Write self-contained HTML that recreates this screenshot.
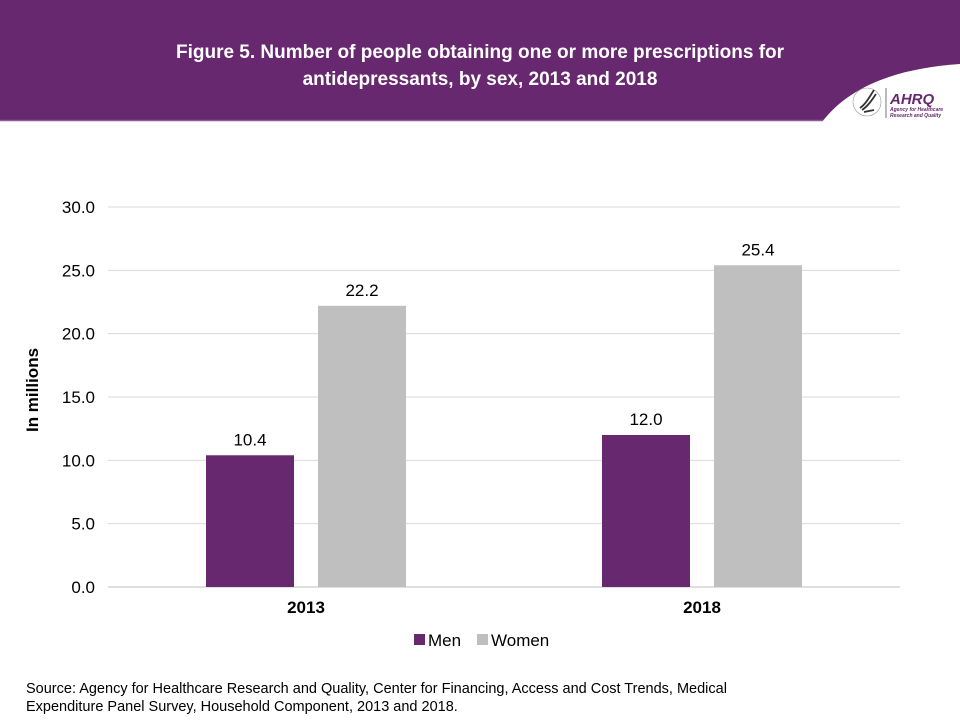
<!DOCTYPE html>
<html><head><meta charset="utf-8"><style>
body{margin:0;width:960px;height:720px;overflow:hidden;background:#fff;font-family:"Liberation Sans",Arial,sans-serif;}
#wrap{position:relative;width:960px;height:720px;}
</style></head><body>
<div id="wrap">
<svg id="svg" width="960" height="720" xmlns="http://www.w3.org/2000/svg">
  <rect x="0" y="0" width="960" height="121" fill="#67286f"/>
  <line x1="0" y1="120.5" x2="960" y2="120.5" stroke="#8e5a96" stroke-width="1.5"/>
  <path d="M822,122 C850,85 900,68 960,64 L960,122 Z" fill="#fff"/>
  <g>
    <circle cx="867" cy="102" r="14" fill="none" stroke="#999" stroke-width="0.6"/>
    <path d="M860,108 C866,104 870,96 874,90 M862,110 C868,106 872,100 876,94 M864,112 L874,110" stroke="#333" stroke-width="1.8" fill="none"/>
    <line x1="886" y1="88" x2="886" y2="118" stroke="#555" stroke-width="0.8"/>
    <text x="890" y="104" font-size="15" font-weight="bold" font-style="italic" fill="#67286f">AHRQ</text>
    <text x="890" y="111" font-size="5" font-weight="bold" font-style="italic" fill="#67286f">Agency for Healthcare</text>
    <text x="890" y="117" font-size="5" font-weight="bold" font-style="italic" fill="#67286f">Research and Quality</text>
  </g>
  <text x="480" y="58" font-size="19" font-weight="bold" fill="#fff" text-anchor="middle">Figure 5. Number of people obtaining one or more prescriptions for</text>
  <text x="480" y="85" font-size="19" font-weight="bold" fill="#fff" text-anchor="middle">antidepressants, by sex, 2013 and 2018</text>
  <g id="grid"></g>
  <g id="bars"></g>
  <text transform="translate(38,390) rotate(-90)" font-size="17" font-weight="bold" fill="#000" text-anchor="middle">In millions</text>
  <g>
    <rect x="414" y="634" width="11" height="11" fill="#67286f"/>
    <text x="428" y="646" font-size="17" fill="#000">Men</text>
    <rect x="477" y="634" width="11" height="11" fill="#bfbfbf"/>
    <text x="491" y="646" font-size="17" fill="#000">Women</text>
  </g>
  <text x="26" y="693" font-size="14.5" fill="#000">Source: Agency for Healthcare Research and Quality, Center for Financing, Access and Cost Trends, Medical</text>
  <text x="26" y="711" font-size="14.5" fill="#000">Expenditure Panel Survey, Household Component, 2013 and 2018.</text>
</svg>
</div>
<script>
const categories=["2013","2018"];
const menValues=[10.4,12.0];
const womenValues=[22.2,25.4];
const valueLabelsMen=["10.4","12.0"];
const valueLabelsWomen=["22.2","25.4"];
const yTicks=[0,5,10,15,20,25,30];
const yTickLabels=["0.0","5.0","10.0","15.0","20.0","25.0","30.0"];

const NS="http://www.w3.org/2000/svg";
const x0=108,x1=900,yBase=587,yTop=207,yMax=30;
const y=v=>yBase-(v/yMax)*(yBase-yTop);
const band=(x1-x0)/categories.length;
const cx=i=>x0+band*(i+0.5);
function mk(tag,attrs,parent){const e=document.createElementNS(NS,tag);for(const k in attrs)e.setAttribute(k,attrs[k]);parent.appendChild(e);return e;}
const grid=document.getElementById('grid'),bars=document.getElementById('bars');
yTicks.forEach((t,i)=>{
  const l=mk('line',{x1:x0,x2:x1,y1:y(t),y2:y(t),stroke:t===0?'#bfbfbf':'#d9d9d9','stroke-width':1},grid);
  
  
  const tx=mk('text',{x:95,y:y(t)+6,'font-size':17,'text-anchor':'end',fill:'#000'},grid);
  tx.textContent=yTickLabels[i];
  
  
});
const bw=88,gap=24;
categories.forEach((c,i)=>{
  const mx=cx(i)-gap/2-bw, wx=cx(i)+gap/2;
  const rm=mk('rect',{x:mx,y:y(menValues[i]),width:bw,height:yBase-y(menValues[i]),fill:'#67286f'},bars);
  
  
  const rw=mk('rect',{x:wx,y:y(womenValues[i]),width:bw,height:yBase-y(womenValues[i]),fill:'#bfbfbf'},bars);
  
  
  const lm=mk('text',{x:mx+bw/2,y:y(menValues[i])-10,'font-size':17,'text-anchor':'middle',fill:'#000'},bars);
  lm.textContent=valueLabelsMen[i];
  
  
  const lw=mk('text',{x:wx+bw/2,y:y(womenValues[i])-10,'font-size':17,'text-anchor':'middle',fill:'#000'},bars);
  lw.textContent=valueLabelsWomen[i];
  
  
  const cl=mk('text',{x:cx(i),y:613,'font-size':17,'font-weight':'bold','text-anchor':'middle',fill:'#000'},bars);
  cl.textContent=c;
  
  
});
</script>
</body></html>
